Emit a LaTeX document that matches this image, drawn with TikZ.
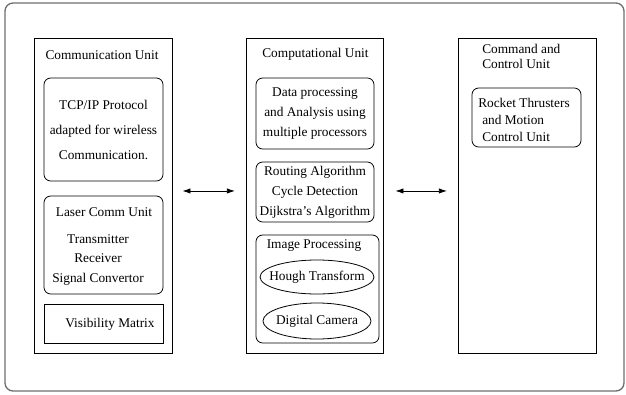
\documentclass[tikz,border=0pt]{standalone}
\usepackage{fontspec}
\setmainfont{Liberation Serif}
\usetikzlibrary{shapes.geometric, arrows.meta, positioning}
\definecolor{framegray}{RGB}{110,110,110}

\tikzset{
    unitbox/.style 2 args={draw, line width=0.6pt, minimum width=#1*0.75pt, minimum height=#2*0.75pt, inner sep=0pt},
    rbox/.style 2 args={unitbox={#1}{#2}, rounded corners=5pt},
    oval/.style 2 args={draw, ellipse, line width=0.6pt, minimum width=#1*0.75pt, minimum height=#2*0.75pt, inner sep=0pt},
    txt/.style={font=\fontsize{10}{15}\selectfont, align=center, inner sep=0pt},
    link/.style={{Latex[length=6pt,width=4pt]}-{Latex[length=6pt,width=4pt]}, line width=0.6pt}
}

\begin{document}
\begin{tikzpicture}[x=0.75pt, y=-0.75pt]
    \useasboundingbox (0,0) rectangle (626,394);

    % Outer frame
    \draw[framegray, line width=1pt, rounded corners=6pt] (5,3) rectangle (624,391);

    % Communication unit
    \node[unitbox={138}{315}] (comm) at (103,195.5) {};
    \node[txt] at (102,55) {Communication Unit};
    \node[rbox={119}{103}, txt, font=\fontsize{10}{18.75}\selectfont] (tcp) at (103.5,129.5) {TCP/IP Protocol\\adapted for wireless\\Communication.};
    \node[rbox={119}{98}] (laser) at (103.5,245) {};
    \node[txt] at (104,212) {Laser Comm Unit};
    \node[txt, font=\fontsize{10}{14.6}\selectfont] at (98,260) {Transmitter\\Receiver\\Signal Convertor};
    \node[unitbox={119}{39}] (vis) at (103.5,323.5) {};
    \node[txt] at (110,324) {Visibility Matrix};

    % Computational unit
    \node[unitbox={137}{315}] (comp) at (314.5,195.5) {};
    \node[txt] at (315.5,54) {Computational Unit};
    \node[rbox={118}{71}, txt] (data) at (315,113.5) {Data processing\\and Analysis using\\multiple processors};
    \node[rbox={118}{60}, txt] (route) at (315,192) {Routing Algorithm\\Cycle Detection\\Dijkstra’s Algorithm};
    \node[rbox={123}{108}] (imgp) at (317.5,289) {};
    \node[txt] at (314,246) {Image Processing};
    \node[oval={114}{34}, label={[txt]center:Hough Transform}] (hough) at (317,277) {};
    \node[oval={108}{36}, label={[txt]center:Digital Camera}] (camera) at (317,321) {};

    % Command and control unit
    \node[unitbox={138}{315}] (cmd) at (527,195.5) {};
    \node[txt, align=left, anchor=west, font=\fontsize{10}{11.25}\selectfont] at (482,56.5) {Command and\\Control Unit};
    \node[rbox={109}{59}] (rocket) at (526.5,117.5) {};
    \node[txt, align=left, anchor=west, font=\fontsize{10}{12.75}\selectfont] at (478,120) {Rocket Thrusters\\\hspace{3pt}and Motion\\\hspace{3pt}Control Unit};

    % Links
    \draw[link, shorten <=7.5pt, shorten >=8pt] ([yshift=3.4pt]comm.east) -- ([yshift=3.4pt]comp.west);
    \draw[link, shorten <=9pt, shorten >=8pt] ([yshift=3.4pt]comp.east) -- ([yshift=3.4pt]cmd.west);
\end{tikzpicture}
\end{document}
